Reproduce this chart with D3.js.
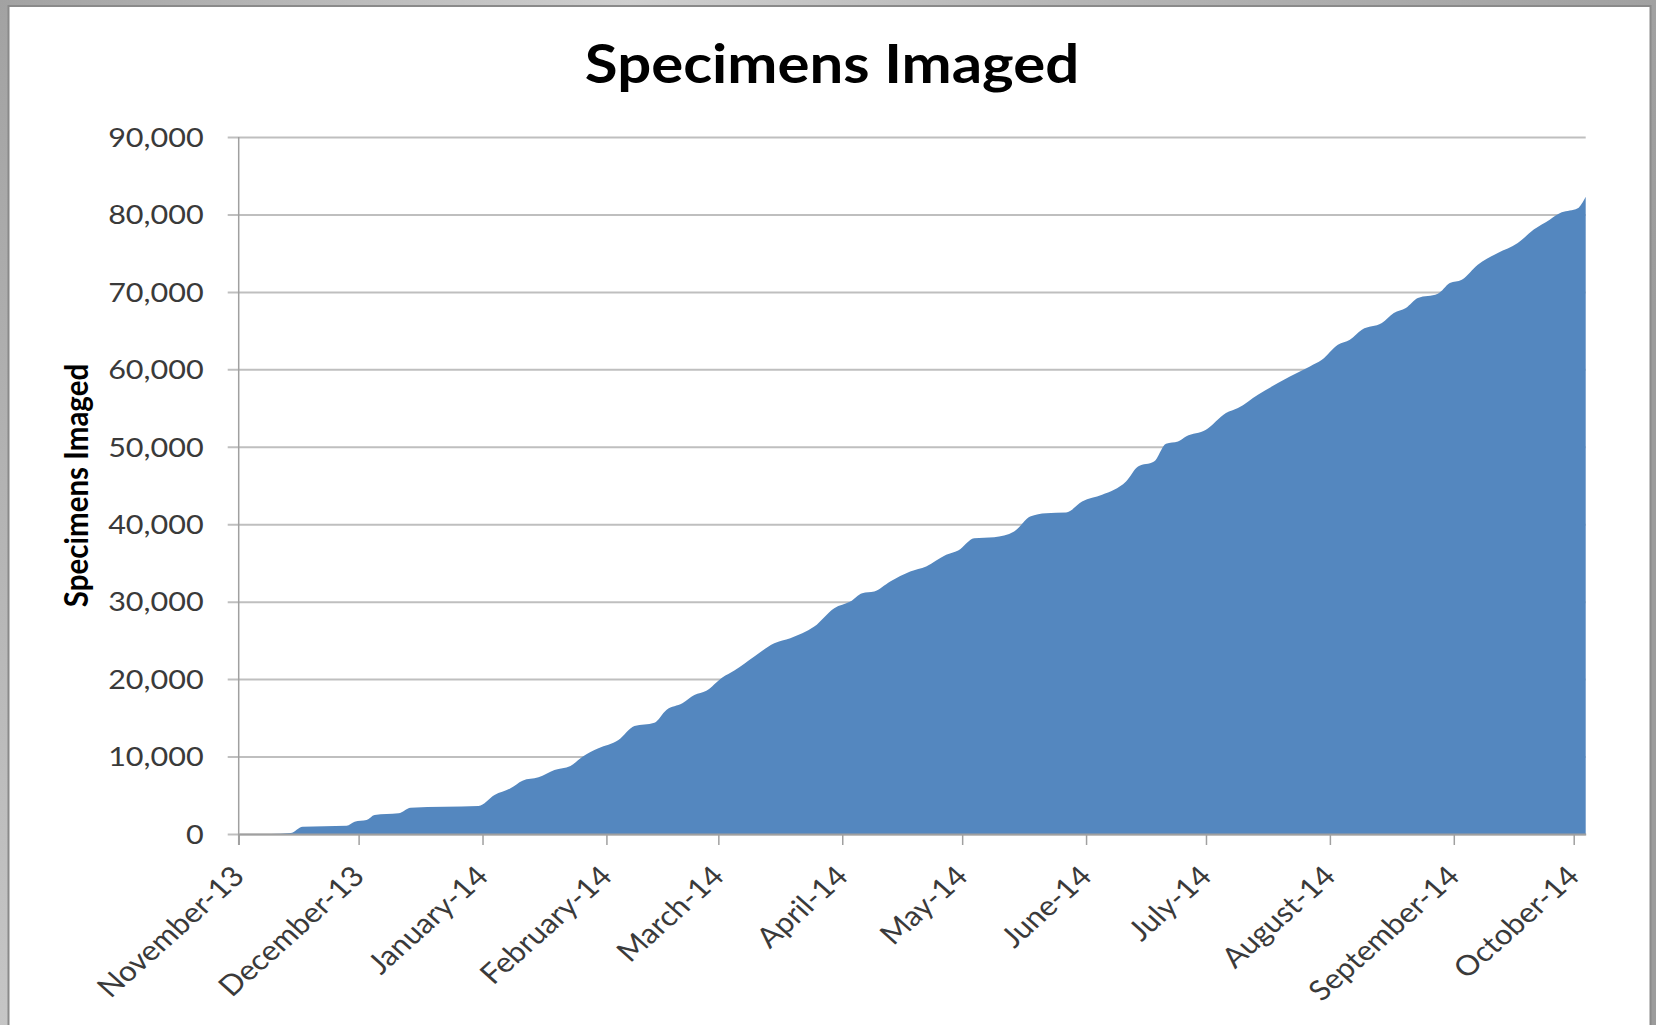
<!DOCTYPE html>
<html>
<head>
<meta charset="utf-8">
<script src="https://cdn.jsdelivr.net/npm/d3@7"></script>
<style>
    body { margin: 0; background: #a8a8a8; overflow: hidden; }
    text { font-family: Lato, Carlito, Calibri, sans-serif; }
</style>
</head>
<body>
<div id="chart"></div>
<script>

var chartTitle = 'Specimens Imaged';
var yTitle = 'Specimens Imaged';

var dates = ['2013-11-01','2013-11-09','2013-11-14','2013-11-17','2013-11-28','2013-11-30','2013-12-03',
    '2013-12-05','2013-12-11','2013-12-14','2013-12-31','2014-01-04','2014-01-08','2014-01-11','2014-01-15',
    '2014-01-19','2014-01-23','2014-01-26','2014-01-30','2014-02-04','2014-02-08','2014-02-13','2014-02-16',
    '2014-02-20','2014-02-23','2014-02-26','2014-03-02','2014-03-05','2014-03-10','2014-03-15','2014-03-19',
    '2014-03-25','2014-03-30','2014-04-03','2014-04-06','2014-04-09','2014-04-13','2014-04-18','2014-04-22',
    '2014-04-27','2014-04-30','2014-05-04','2014-05-09','2014-05-14','2014-05-18','2014-05-22','2014-05-27',
    '2014-05-31','2014-06-05','2014-06-08','2014-06-11','2014-06-14','2014-06-18','2014-06-21','2014-06-24',
    '2014-06-26','2014-07-01','2014-07-06','2014-07-09','2014-07-14','2014-07-19','2014-07-22','2014-07-27',
    '2014-07-30','2014-08-03','2014-08-06','2014-08-09','2014-08-14','2014-08-17','2014-08-20','2014-08-23',
    '2014-08-28','2014-08-31','2014-09-03','2014-09-07','2014-09-12','2014-09-17','2014-09-21','2014-09-25',
    '2014-09-28','2014-09-30','2014-10-02','2014-10-04'];

var imaged = [0,0,120,940,1070,1590,1800,
    2450,2670,3400,3620,5040,5900,6890,7320,
    8270,8790,9990,11070,12140,13950,14380,16020,
    16890,17960,18500,20200,21100,22910,24640,25280,
    26780,29160,30010,31100,31310,32600,33890,34540,
    36050,36600,38200,38330,39060,41000,41430,41510,
    42930,43800,44440,45520,47450,48100,50400,50690,
    51330,52200,54350,55000,56720,58230,59090,60380,
    61240,63180,63820,65120,65980,67270,67920,69210,
    69770,71150,71580,73510,75020,76320,78040,79330,
    80270,80500,80800,82300];

var yTicks = [0,10000,20000,30000,40000,50000,60000,70000,80000,90000];
var axisStart = '2013-11-01';
var axisEnd = '2014-10-04';


function drawAreaChart(chartId) {
    var width = 1656;
    var height = 1025;
    var left = 238.7, right = 1585.7, top = 137, bottom = 834;
    var sx = 1.12; // the picture is stretched sideways, so glyphs are too
    var tickLen = 11;

    var parse = d3.timeParse('%Y-%m-%d');
    var data = dates.map((d, i) => ({date: parse(d), value: imaged[i]}));

    var x = d3.scaleTime().domain([parse(axisStart), parse(axisEnd)]).range([left, right]);
    var y = d3.scaleLinear().domain([0, 90000]).range([bottom, top]);

    var svg = d3.select(chartId)
        .append('svg')
        .attr('width', width)
        .attr('height', height);

    var grad = svg.append('defs').append('linearGradient')
        .attr('id', 'bg')
        .attr('x1', '0').attr('y1', '0').attr('x2', '1').attr('y2', '0.3');
    grad.append('stop').attr('offset', '0').attr('stop-color', '#a2a2a2');
    grad.append('stop').attr('offset', '0.35').attr('stop-color', '#cfcfcf');
    grad.append('stop').attr('offset', '0.6').attr('stop-color', '#b5b5b5');
    grad.append('stop').attr('offset', '1').attr('stop-color', '#9c9c9c');

    svg.append('rect')
        .attr('width', width)
        .attr('height', height)
        .attr('fill', 'url(#bg)');

    svg.append('rect')
        .attr('x', 8.5)
        .attr('y', 6)
        .attr('width', 1642)
        .attr('height', height + 10)
        .attr('fill', '#ffffff')
        .attr('stroke', '#8a8a8a')
        .style('stroke-width', '2px');

    svg.append('text')
        .text(chartTitle)
        .attr('transform', 'translate(832,83) scale(' + sx + ',1)')
        .attr('text-anchor', 'middle')
        .style('font-size', '53.5px')
        .style('font-weight', 'bold')
        .attr('fill', '#000');

    // gridlines + y ticks and labels
    var yAxis = svg.append('g')
        .attr('transform', 'translate(' + left + ',0)')
        .call(d3.axisLeft(y)
            .tickValues(yTicks)
            .tickFormat(d3.format(','))
            .tickSizeInner(-(right - left))
            .tickSizeOuter(0));
    yAxis.select('.domain').remove();
    yAxis.selectAll('.tick line')
        .attr('x1', -tickLen)
        .attr('stroke', '#bfbfbf')
        .style('stroke-width', '2px');
    yAxis.selectAll('.tick text')
        .attr('x', 0)
        .attr('dy', '0.35em')
        .attr('transform', 'translate(-35,0) scale(' + (sx * 1.03) + ',1)')
        .attr('fill', '#3a3a3a')
        .style('font-size', '26.5px')
        .style('font-family', 'Lato, sans-serif');

    var area = d3.area()
        .curve(d3.curveMonotoneX)
        .x(d => x(d.date))
        .y0(y(0))
        .y1(d => y(d.value));

    svg.append('path')
        .datum(data)
        .attr('d', area)
        .attr('fill', '#5487bf');

    var xAxis = svg.append('g')
        .attr('transform', 'translate(0,' + bottom + ')')
        .call(d3.axisBottom(x)
            .ticks(d3.timeMonth.every(1))
            .tickFormat(d3.timeFormat('%B-%y'))
            .tickSizeInner(tickLen)
            .tickSizeOuter(0));
    xAxis.select('.domain')
        .attr('stroke', '#a0a0a0')
        .style('stroke-width', '2px');
    xAxis.selectAll('.tick line')
        .attr('stroke', '#a0a0a0')
        .style('stroke-width', '1.5px');
    xAxis.selectAll('.tick text')
        .attr('x', 0)
        .attr('y', 0)
        .attr('dy', 0)
        .attr('text-anchor', 'end')
        .attr('transform', 'translate(7,44) scale(' + sx + ',1) rotate(-45)')
        .attr('fill', '#3a3a3a')
        .style('font-size', '28px')
        .style('font-family', 'Lato, sans-serif');

    svg.append('line')
        .attr('x1', left).attr('x2', left)
        .attr('y1', y(90000)).attr('y2', y(0) + tickLen)
        .attr('stroke', '#a0a0a0')
        .style('stroke-width', '1.5px');

    svg.append('text')
        .text(yTitle)
        .attr('transform', 'translate(88,' + ((top + bottom) / 2) + ') scale(' + sx + ',1) rotate(-90)')
        .attr('text-anchor', 'middle')
        .style('font-size', '29.5px')
        .style('font-weight', 'bold')
        .attr('fill', '#000');
}

drawAreaChart('#chart');

</script>
</body>
</html>
